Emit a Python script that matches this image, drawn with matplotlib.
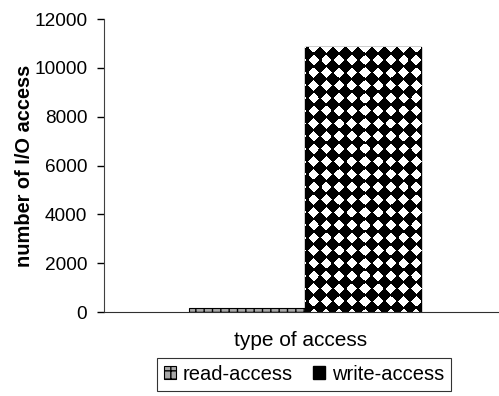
import numpy as np
import matplotlib
matplotlib.use("Agg")
import matplotlib.pyplot as plt

plt.rcParams['font.family'] = ['Liberation Sans', 'DejaVu Sans']

# I/O access counts by type
series = ["read-access", "write-access"]
counts = [150, 10850]
yticks = [0, 2000, 4000, 6000, 8000, 10000, 12000]

fig = plt.figure(figsize=(4.99, 3.96), dpi=100)
ax = fig.add_axes([0.208, 0.212, 0.79, 0.74])

width = 0.295
offsets = [-width / 2, width / 2]
read_bar = ax.bar(offsets[0], counts[0], width, color='#a8a8a8',
                  edgecolor='black', linewidth=0.8, hatch='++',
                  label=series[0])
write_bar = ax.bar(offsets[1], counts[1], width, color='black',
                   edgecolor='black', linewidth=1.0, label=series[1])

ax.set_xlim(-0.51, 0.49)
ax.set_ylim(0, 12000)
ax.set_yticks(yticks)
ax.set_xticks([])
ax.tick_params(axis='y', direction='out', length=5, width=1, pad=7,
               labelsize=13.7)
for side in ('top', 'right'):
    ax.spines[side].set_visible(False)
ax.spines['left'].set_color('#404040')
ax.spines['bottom'].set_color('#303030')

ax.set_ylabel("number of I/O access", fontsize=14.4, fontweight='bold',
              labelpad=0)
ax.set_xlabel("type of access", fontsize=15, labelpad=14)

# white diamond texture on the write-access bar
fig.canvas.draw()
patch = write_bar[0]
x0, y0 = patch.get_x(), patch.get_y()
x1, y1 = x0 + patch.get_width(), y0 + patch.get_height()
(px0, py0), (px1, py1) = ax.transData.transform([(x0, y0), (x1, y1)])
w_px, h_px = int(round(px1 - px0)), int(round(py1 - py0))
period = 12.7
u = (np.arange(w_px) + 0.5 - 8.7) / period
v = (np.arange(h_px) + 0.5 - 10.7) / period
du = np.abs(u - np.round(u))
dv = np.abs(v - np.round(v))
shape = du[None, :] ** 1.05 + dv[:, None] ** 1.05
texture = (shape < 0.40).astype(float)
img = ax.imshow(texture, extent=(x0, x1, y1, y0), origin='upper',
                cmap='gray', vmin=0, vmax=1, interpolation='nearest',
                aspect='auto', zorder=patch.get_zorder() + 0.1)
img.set_clip_path(patch)
ax.set_xlim(-0.51, 0.49)
ax.set_ylim(0, 12000)

leg = ax.legend(loc='center', bbox_to_anchor=(0.508, -0.213), ncol=2,
                fontsize=14.5, frameon=True, fancybox=False,
                handlelength=0.6, handleheight=0.6, handletextpad=0.35,
                columnspacing=1.0, borderpad=0.35, borderaxespad=0)
leg.get_frame().set_edgecolor('black')
leg.get_frame().set_linewidth(0.8)

fig.savefig("out.png", dpi=100)
